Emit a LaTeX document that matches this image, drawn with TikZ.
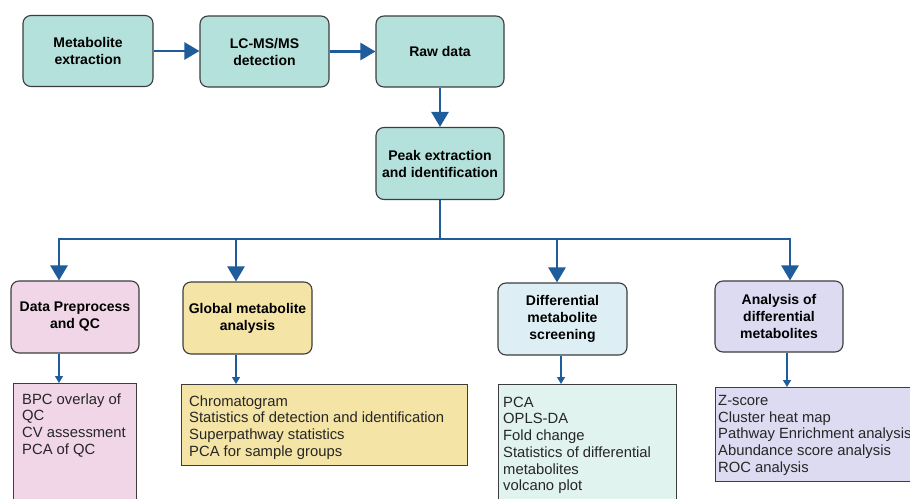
\documentclass[tikz,border=0pt]{standalone}
\usepackage{fontspec}
\setmainfont{Liberation Sans}
\usetikzlibrary{arrows.meta}
\definecolor{tealbox}{HTML}{B4E1DB}
\definecolor{pinkbox}{HTML}{F1D6E8}
\definecolor{yellowbox}{HTML}{F4E4A6}
\definecolor{bluebox}{HTML}{DDEFF5}
\definecolor{lavbox}{HTML}{DDDBF1}
\definecolor{greenbox}{HTML}{E1F3EF}
\definecolor{arrowblue}{HTML}{1E5C9B}
\definecolor{bordc}{HTML}{3D3D3D}
\begin{document}
\begin{tikzpicture}[x=1pt,y=-1pt,
  hbox/.style={draw=bordc, line width=1.1pt, rounded corners=8pt, inner sep=0pt, align=center,
    font=\fontsize{14}{17}\selectfont\bfseries},
  dbox/.style={draw=bordc, line width=1.1pt, inner sep=0pt, anchor=north west},
  dtext/.style={anchor=north west, inner sep=0pt, align=left, text=black!85,
    font=\fontsize{14.8}{16.7}\selectfont},
  bigarrow/.style={draw=arrowblue, line width=2.6pt, -{Triangle[length=15pt,width=17pt]}},
  bothbig/.style={draw=arrowblue, line width=2.6pt, {Triangle[length=15pt,width=17pt]}-{Triangle[length=15pt,width=17pt]}},
  thinarrow/.style={draw=arrowblue, line width=1.4pt, -{Triangle[length=7pt,width=8pt]}}
]
\useasboundingbox (0,0) rectangle (910,498);
\clip (0,0) rectangle (910,498);
\fill[white] (0,0) rectangle (910,498);

% top row
\node[hbox, fill=tealbox, minimum width=130pt, minimum height=71pt] (me) at (88,51) {Metabolite\\extraction};
\node[hbox, fill=tealbox, minimum width=129pt, minimum height=71pt] (lc) at (264.5,51.5) {LC-MS/MS\\detection};
\node[hbox, fill=tealbox, minimum width=128pt, minimum height=71pt] (raw) at (440,51.5) {Raw data};
\node[hbox, fill=tealbox, minimum width=128pt, minimum height=72pt] (peak) at (440,163.5) {Peak extraction\\and identification};

% categories
\node[hbox, fill=pinkbox, minimum width=128pt, minimum height=72pt] (dp) at (75,317) {Data Preprocess\\and QC};
\node[hbox, fill=yellowbox, minimum width=129pt, minimum height=72pt] (gm) at (247.5,318) {Global metabolite\\analysis};
\node[hbox, fill=bluebox, minimum width=129pt, minimum height=72pt] (ds) at (562.5,319) {Differential\\metabolite\\screening};
\node[hbox, fill=lavbox, minimum width=128pt, minimum height=71pt] (ad) at (779,316.5) {Analysis of\\differential\\metabolites};

% detail boxes
\node[dbox, fill=pinkbox, minimum width=123pt, minimum height=130pt] (pd) at (13,383) {};
\node[dbox, fill=yellowbox, minimum width=286pt, minimum height=81pt] (yd) at (181,384) {};
\node[dbox, fill=greenbox, minimum width=178pt, minimum height=130pt] (gd) at (498,384) {};
\node[dbox, fill=lavbox, minimum width=220pt, minimum height=94pt] (ld) at (715,387) {};

\node[dtext] (pt) at (22,393.2) {BPC overlay of\\QC\\CV assessment\\PCA of QC};
\node[dtext] (yt) at (189,395.2) {Chromatogram\\Statistics of detection and identification\\Superpathway statistics\\PCA for sample groups};
\node[dtext] (gt) at (503,396.7) {PCA\\OPLS-DA\\Fold change\\Statistics of differential\\metabolites\\volcano plot};
\node[dtext] (lt) at (718,395) {Z-score\\Cluster heat map\\Pathway Enrichment analysis\\Abundance score analysis\\ROC analysis};

% connectors top
\draw[bigarrow] (me.east) -- (me.east -| lc.west);
\draw[bigarrow] (lc.east) -- (lc.east -| raw.west);
\draw[bigarrow] (raw) -- (peak);

% bus
\coordinate (b1) at (59,239);
\coordinate (b2) at (236,239);
\coordinate (b3) at (557,239);
\coordinate (b4) at (790,239);
\draw[draw=arrowblue, line width=2.6pt] (peak.south) -- (peak.south |- b1);
\draw[bothbig] (b1 |- dp.north) -- (b1) -- (b4) -- (b4 |- ad.north);
\draw[bigarrow] (b2) -- (b2 |- gm.north);
\draw[bigarrow] (b3) -- (b3 |- ds.north);

% thin arrows
\coordinate (t1) at (59,0);
\coordinate (t2) at (236,0);
\coordinate (t3) at (561,0);
\coordinate (t4) at (787,0);
\draw[thinarrow] (t1 |- dp.south) -- (t1 |- pd.north);
\draw[thinarrow] (t2 |- gm.south) -- (t2 |- yd.north);
\draw[thinarrow] (t3 |- ds.south) -- (t3 |- gd.north);
\draw[thinarrow] (t4 |- ad.south) -- (t4 |- ld.north);
\end{tikzpicture}
\end{document}
